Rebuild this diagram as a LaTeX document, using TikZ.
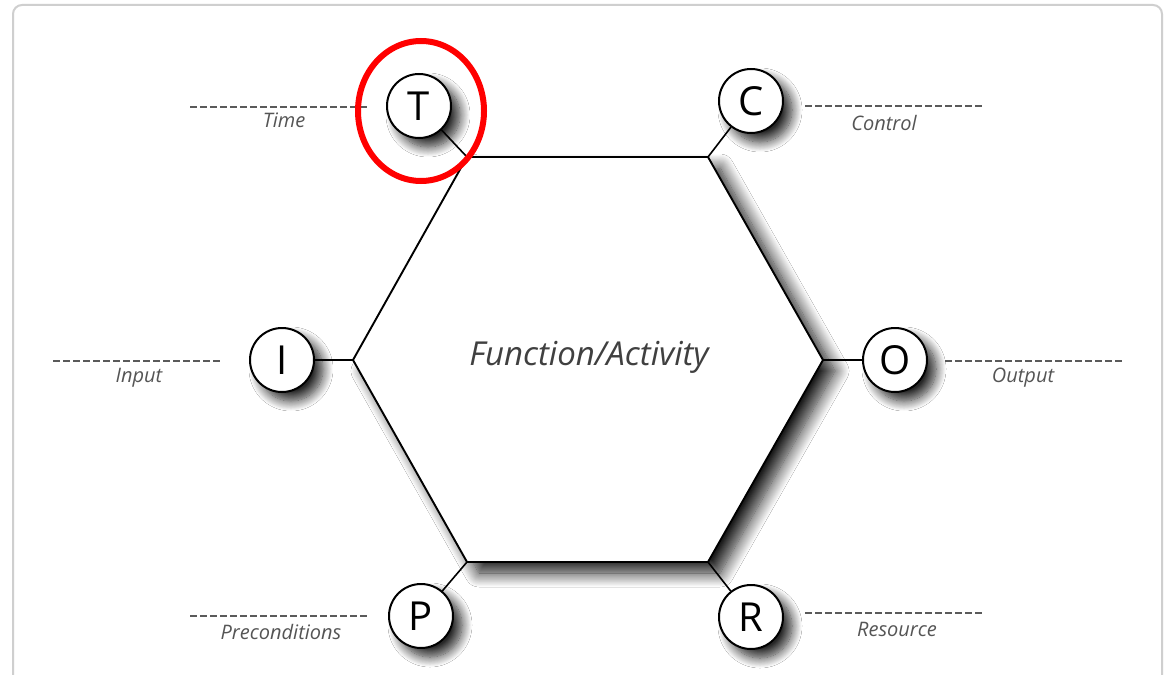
\documentclass[tikz,border=0pt]{standalone}
\usepackage{fontspec}
\setmainfont{Open Sans}
\usetikzlibrary{shadows.blur,shapes.geometric}
\definecolor{txtgray}{HTML}{555555}
\definecolor{dashgray}{HTML}{5A5A5A}
\definecolor{framegray}{HTML}{CFCFCF}
\begin{document}
\begin{tikzpicture}[x=1pt,y=-1pt,
  letter/.style={circle,draw=black,line width=2pt,fill=white,minimum size=64pt,inner sep=0pt,
    font=\fontsize{40}{40}\selectfont,
    blur shadow={shadow xshift=9pt,shadow yshift=-9pt,shadow blur radius=10pt,shadow blur steps=14,shadow opacity=85}},
  lbl/.style={font=\fontsize{20}{20}\selectfont\itshape,text=txtgray,anchor=base,inner sep=0pt},
  dashline/.style={draw=dashgray,line width=1.6pt,dash pattern=on 6.5pt off 3.5pt},
  link/.style={draw=black,line width=1.6pt},
  hexstyle/.style={draw=black,line width=1.9pt,fill=white,line join=miter,
    blur shadow={shadow xshift=12pt,shadow yshift=-11pt,shadow blur radius=14pt,shadow blur steps=16,shadow opacity=90}}]
\useasboundingbox (0,0) rectangle (1166,674);
\fill[white] (0,0) rectangle (1166,674);
% frame
\draw[framegray,line width=2pt,rounded corners=9pt] (13,5) rectangle (1162,720);
% hexagon
\coordinate (h1) at (467,157);
\coordinate (h2) at (708,157);
\coordinate (h3) at (823,360);
\coordinate (h4) at (708,562);
\coordinate (h5) at (467,562);
\coordinate (h6) at (353,360);
\path[hexstyle] (h1) -- (h2) -- (h3) -- (h4) -- (h5) -- (h6) -- cycle;
\node[font=\fontsize{33}{33}\selectfont\itshape,text=black!75,anchor=base] (fa) at (589,365) {Function/Activity};
% circles
\node[letter] (T) at (419,106) {T};
\node[letter] (C) at (751,101) {C};
\node[letter] (I) at (282,360) {I};
\node[letter] (O) at (895,360) {O};
\node[letter] (P) at (421,616) {P};
\node[letter] (R) at (751,617) {R};
% connectors
\draw[link] (T) -- (h1);
\draw[link] (C) -- (h2);
\draw[link] (I) -- (h6);
\draw[link] (O) -- (h3);
\draw[link] (P) -- (h5);
\draw[link] (R) -- (h4);
% dashed lines
\coordinate (t1) at (190,107); \coordinate (t2) at (370,107);
\coordinate (c1) at (805,106); \coordinate (c2) at (983,106);
\coordinate (i1) at (53,361); \coordinate (i2) at (223,361);
\coordinate (o1) at (945,361); \coordinate (o2) at (1122,361);
\coordinate (p1) at (190,616); \coordinate (p2) at (368,616);
\coordinate (r1) at (805,613); \coordinate (r2) at (983,613);
\draw[dashline] (t1) -- (t2);
\draw[dashline] (c1) -- (c2);
\draw[dashline] (i1) -- (i2);
\draw[dashline] (o1) -- (o2);
\draw[dashline] (p1) -- (p2);
\draw[dashline] (r1) -- (r2);
% labels
\node[lbl] (lt) at (284,128) {Time};
\node[lbl] (lc) at (884,130) {Control};
\node[lbl] (li) at (139,382) {Input};
\node[lbl] (lo) at (1023,382) {Output};
\node[lbl] (lp) at (281,639) {Preconditions};
\node[lbl] (lr) at (897,636) {Resource};
% red highlight
\node[draw=red,line width=6pt,ellipse,minimum width=126pt,minimum height=140pt,inner sep=0pt] (hl) at (421,111) {};
\end{tikzpicture}
\end{document}
